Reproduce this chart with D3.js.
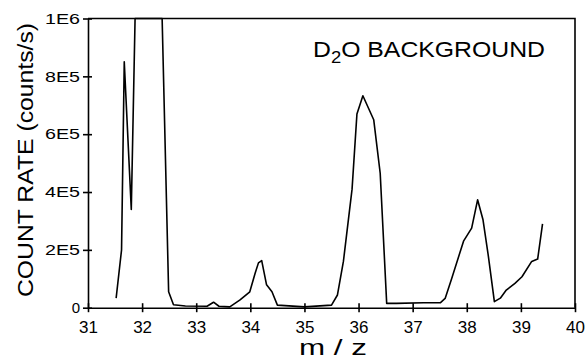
<!DOCTYPE html>
<html>
<head>
<meta charset="utf-8">
<script src="https://cdn.jsdelivr.net/npm/d3@7"></script>
<style>
  body { margin: 0; background: #fff; }
  svg { display: block; font-family: "Liberation Sans", Arial, sans-serif; }
</style>
</head>
<body>
<div id="chart"></div>
<script>
// m/z trace
const mz = [31.52, 31.62, 31.67, 31.80, 31.87, 32.37, 32.49, 32.58, 32.8, 33.2, 33.32, 33.42,
  33.62, 33.81, 33.99, 34.09, 34.15, 34.21, 34.30, 34.40, 34.50, 35.0,
  35.50, 35.61, 35.72, 35.88, 35.97, 36.08, 36.28, 36.40, 36.52, 36.7, 37.2,
  37.51, 37.60, 37.72, 37.94, 38.09, 38.20, 38.30, 38.40, 38.51,
  38.62, 38.73, 38.89, 39.02, 39.20, 39.31, 39.40];
const counts = [3.3e4, 2.0e5, 8.5e5, 3.4e5, 1e6, 1e6, 5.5e4, 1e4, 6e3, 5e3, 1.9e4, 5e3,
  3e3, 2.7e4, 5.5e4, 1.2e5, 1.55e5, 1.63e5, 7.9e4, 5.5e4, 9e3, 3e3,
  9e3, 4.4e4, 1.6e5, 4.1e5, 6.7e5, 7.33e5, 6.5e5, 4.65e5, 1.5e4, 1.5e4, 1.7e4,
  1.7e4, 3.2e4, 1.0e5, 2.3e5, 2.75e5, 3.73e5, 3.04e5, 1.77e5, 2.1e4,
  3.3e4, 6.1e4, 8.4e4, 1.07e5, 1.6e5, 1.68e5, 2.9e5];

const xTicks = [31, 32, 33, 34, 35, 36, 37, 38, 39, 40];
const yTicks = [0, 2e5, 4e5, 6e5, 8e5, 1e6];
const yTickLabels = ["0", "2E5", "4E5", "6E5", "8E5", "1E6"];

const width = 586, height = 360;
const plotLeft = 88, plotRight = 575, plotTop = 18.5, plotBottom = 307.7;

const svg = d3.select('#chart').append('svg').attr('width', width).attr('height', height);
svg.append('rect').attr('width', width).attr('height', height).attr('fill', '#fff');

const x = d3.scaleLinear().domain([31, 40]).range([plotLeft, plotRight]);
const y = d3.scaleLinear().domain([0, 1e6]).range([plotBottom, plotTop]);

// frame: top and right borders
svg.append('path')
  .attr('d', `M${plotLeft},${plotTop}H${plotRight}V${plotBottom}`)
  .attr('fill', 'none').attr('stroke', '#000').attr('stroke-width', 1.6);

const xAxis = svg.append('g').attr('transform', `translate(0,${plotBottom})`)
  .call(d3.axisBottom(x).tickValues(xTicks).tickFormat(d3.format('d')).tickSizeOuter(0));
xAxis.select('.domain').attr('stroke-width', 1.6);
xAxis.selectAll('.tick line').attr('y1', -4.5).attr('y2', 4.5).attr('stroke-width', 1.6);
xAxis.selectAll('.tick text').attr('y', 13.5).attr('dy', '0.71em')
  .attr('font-size', 17).attr('font-family', '"Liberation Sans", Arial, sans-serif').attr('fill', '#000');

const yAxis = svg.append('g').attr('transform', `translate(${plotLeft},0)`)
  .call(d3.axisLeft(y).tickValues(yTicks).tickFormat((d, i) => yTickLabels[i]).tickSizeOuter(0));
yAxis.select('.domain').attr('stroke-width', 1.6);
yAxis.selectAll('.tick line').attr('x1', -5).attr('x2', 4).attr('stroke-width', 1.6);
yAxis.selectAll('.tick text').attr('x', -8)
  .attr('font-size', 15).attr('font-family', '"Liberation Sans", Arial, sans-serif').attr('fill', '#000')
  .each(function (d, i) {
    if (yTickLabels[i].length > 1) d3.select(this).attr('textLength', 35).attr('lengthAdjust', 'spacingAndGlyphs');
  });

// the trace
const pts = mz.map((m, i) => [m, counts[i]]);
svg.append('path')
  .datum(pts)
  .attr('fill', 'none')
  .attr('stroke', '#000')
  .attr('stroke-width', 1.6)
  .attr('stroke-linejoin', 'round')
  .attr('d', d3.line().x(d => x(d[0])).y(d => y(d[1])));

// title
const title = svg.append('text').attr('x', 313).attr('y', 57)
  .attr('font-size', 21.5).attr('textLength', 232).attr('lengthAdjust', 'spacingAndGlyphs');
title.append('tspan').text('D');
title.append('tspan').attr('dy', 6).attr('font-size', 16).text('2');
title.append('tspan').attr('dy', -6).text('O BACKGROUND');

// axis titles
svg.append('text')
  .attr('transform', 'translate(33,160) rotate(-90)')
  .attr('text-anchor', 'middle').attr('font-size', 22)
  .attr('textLength', 274).attr('lengthAdjust', 'spacingAndGlyphs')
  .text('COUNT RATE (counts/s)');

svg.append('text')
  .attr('x', 333).attr('y', 355)
  .attr('text-anchor', 'middle').attr('font-size', 22)
  .attr('textLength', 68).attr('lengthAdjust', 'spacingAndGlyphs')
  .text('m / z');
</script>
</body>
</html>
